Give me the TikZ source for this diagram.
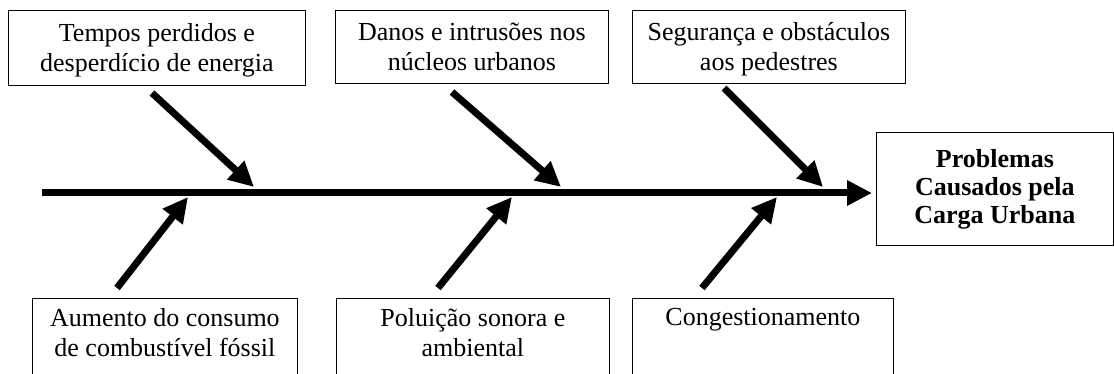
\documentclass[tikz,border=0pt]{standalone}
\usepackage{fontspec}
\setmainfont{Liberation Serif}
\usetikzlibrary{arrows.meta}

\begin{document}
\begin{tikzpicture}[x=1pt, y=-1pt,
        causa/.style={draw, line width=0.8pt, align=center, anchor=north west,
            font=\fontsize{26}{30}\selectfont},
        seta/.style={line width=7pt, -{Triangle[length=25pt,width=24pt]}}]
        \useasboundingbox (0,0) rectangle (1114,374);

        % Causes above
        \node [causa, minimum width=297pt, minimum height=75pt, text depth=0pt] (1) at (8,10) {Tempos perdidos e\\desperdício de energia};
        \node [causa, minimum width=273pt, minimum height=73pt, text depth=0pt] (2) at (335,10) {Danos e intrusões nos\\núcleos urbanos};
        \node [causa, minimum width=273pt, minimum height=73pt, text depth=0pt] (3) at (632,10) {Segurança e obstáculos\\aos pedestres};

        % Causes below
        \node [causa, inner ysep=10pt, text depth=70pt, minimum width=265pt] (4) at (32,298) {Aumento do consumo\\de combustível fóssil};
        \node [causa, inner ysep=10pt, text depth=70pt, minimum width=273pt] (5) at (336,298) {Poluição sonora e\\ambiental};
        \node [causa, inner ysep=10pt, text depth=100pt, minimum width=261pt] (6) at (632,298) {Congestionamento};

        % Effect
        \node [causa, minimum width=237pt, minimum height=113pt,
            font=\fontsize{26}{28}\selectfont\bfseries] (efeito) at (876,132) {Problemas\\Causados pela\\Carga Urbana};

        % Spine
        \coordinate (ini) at (42,193);
        \draw [seta, shorten >=4pt] (ini) -- (ini -| efeito.west);

        % Arrows
        \coordinate (a1) at (152,93);  \coordinate (p1) at (254,187);
        \coordinate (a2) at (452,92);  \coordinate (p2) at (561,187);
        \coordinate (a3) at (724,88);  \coordinate (p3) at (823,187);
        \coordinate (b1) at (117,288); \coordinate (q1) at (188,197);
        \coordinate (b2) at (438,288); \coordinate (q2) at (512,197);
        \coordinate (b3) at (702,288); \coordinate (q3) at (777,197);
        \draw [seta] (a1) -- (p1);
        \draw [seta] (a2) -- (p2);
        \draw [seta] (a3) -- (p3);
        \draw [seta] (b1) -- (q1);
        \draw [seta] (b2) -- (q2);
        \draw [seta] (b3) -- (q3);
    \end{tikzpicture}
\end{document}
